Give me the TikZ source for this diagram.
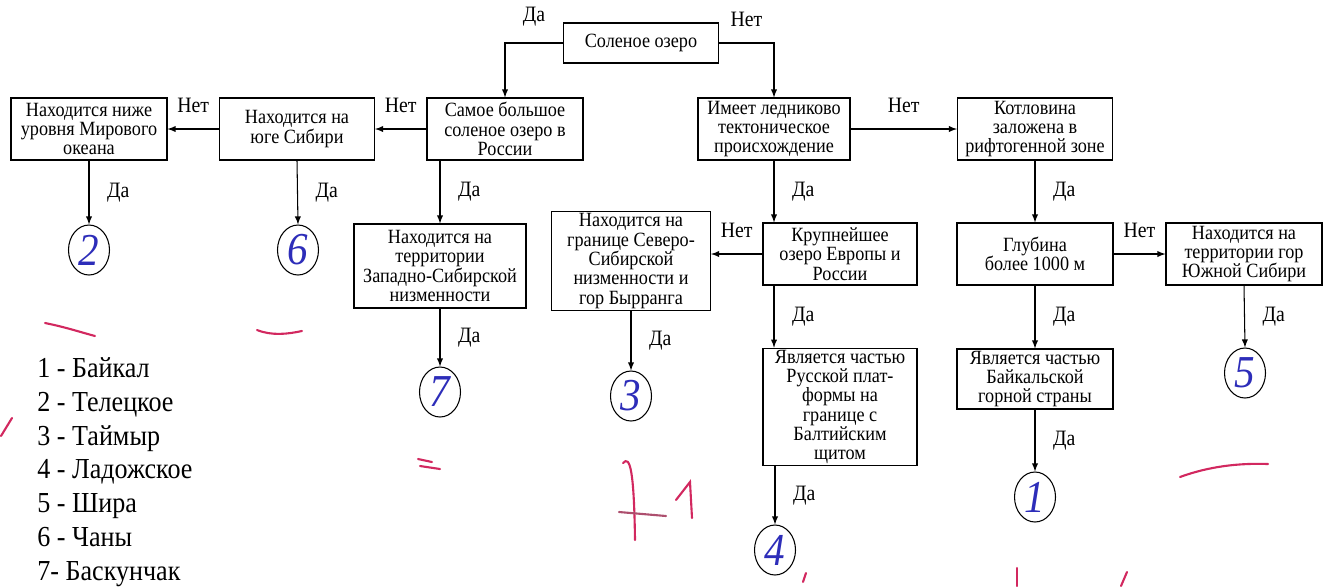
\documentclass[tikz,border=0pt]{standalone}
\usepackage{fontspec}
\setmainfont{Liberation Serif}[FakeStretch=0.9]
\usetikzlibrary{shapes.geometric}
\definecolor{pen}{RGB}{45,45,185}
\definecolor{redpen}{RGB}{210,40,95}
\tikzset{
  box/.style 2 args={draw, align=center, inner sep=1pt, line width=0.6pt,
    font=\fontsize{11.5}{11}\selectfont,
    minimum width=#1*0.02cm, minimum height=#2*0.02cm},
  lake/.style={draw, ellipse, inner sep=0pt, line width=0.6pt,
    minimum width=41*0.02cm, minimum height=50*0.02cm,
    text=pen, font=\fontsize{26}{26}\selectfont\itshape},
  yeslbl/.style={right=9pt, inner sep=1pt, font=\fontsize{12.5}{12}\selectfont},
  nolbl/.style={above=8pt, inner sep=1pt, font=\fontsize{12.5}{12}\selectfont},
  arr/.style={-latex, line width=0.6pt},
  ink/.style={draw=redpen, line width=1.2pt, line cap=round}
}
\begin{document}
\begin{tikzpicture}[x=0.02cm, y=-0.02cm]
	\useasboundingbox (0,0) rectangle (1331,586);

	%top of the tree
	\node[box={155}{40}] (salt) at (641,43) {Соленое озеро};
	\node[box={156}{62}] (big) at (505,129) {Самое большое\\соленое озеро в\\России};
	\node[box={152}{62}] (glac) at (774,129) {Имеет ледниково\\тектоническое\\происхождение};
	\node[box={155}{62}] (south) at (297,129) {Находится на\\юге Сибири};
	\node[box={156}{62}] (below) at (89,129) {Находится ниже\\уровня Мирового\\океана};
	\node[box={155}{62}] (rift) at (1035,129) {Котловина\\заложена в\\рифтогенной зоне};

	%second row
	\node[box={172}{84}] (wsib) at (440,266) {Находится на\\территории\\Западно-Сибирской\\низменности};
	\node[box={159}{98}] (taim) at (631,261) {Находится на\\границе Северо-\\Сибирской\\низменности и\\гор Бырранга};
	\node[box={154}{62}] (large) at (840,254) {Крупнейшее\\озеро Европы и\\России};
	\node[box={156}{62}] (deep) at (1035,254) {Глубина\\более 1000 м};
	\node[box={156}{62}] (shira) at (1244,254) {Находится на\\территории гор\\Южной Сибири};

	%third row
	\node[box={154}{117}] (lad) at (840,407) {Является частью\\Русской плат-\\формы на\\границе с\\Балтийским\\щитом};
	\node[box={156}{60}] (baik) at (1035,379) {Является частью\\Байкальской\\горной страны};

	%answers, numbers written by hand
	\node[lake] (c2) at (89,250) {2};
	\node[lake] (c6) at (298,250) {6};
	\node[lake] (c7) at (440,392) {7};
	\node[lake] (c3) at (631,396) {3};
	\node[lake] (c5) at (1245,373) {5};
	\node[lake] (c1) at (1035,497) {1};
	\node[lake] (c4) at (775,550) {4};

	\draw[arr] (salt.west) -| node[nolbl, pos=0.25] (a1) {Да} (big.north);
	\draw[arr] (salt.east) -| node[nolbl, pos=0.25] (a2) {Нет} (glac.north);
	\draw[arr] (big.west) -- node[nolbl] (a3) {Нет} (south.east);
	\draw[arr] (south.west) -- node[nolbl] (a4) {Нет} (below.east);
	\draw[arr] (glac.east) -- node[nolbl] (a5) {Нет} (rift.west);
	\draw[arr] (below.south) -- node[yeslbl] (a6) {Да} (c2.north);
	\draw[arr] (south.south) -- node[yeslbl] (a7) {Да} (c6.north);
	\draw[arr] (big.south -| wsib.north) -- node[yeslbl] (a8) {Да} (wsib.north);
	\draw[arr] (wsib.south) -- node[yeslbl] (a9) {Да} (c7.north);
	\draw[arr] (glac.south) -- node[yeslbl] (a10) {Да} (glac.south |- large.north);
	\draw[arr] (large.west) -- node[nolbl] (a11) {Нет} (large.west -| taim.east);
	\draw[arr] (taim.south) -- node[yeslbl] (a12) {Да} (c3.north);
	\draw[arr] (large.south -| glac.south) -- node[yeslbl] (a13) {Да} (lad.north -| glac.south);
	\draw[arr] (lad.south -| c4.north) -- node[yeslbl] (a14) {Да} (c4.north);
	\draw[arr] (rift.south) -- node[yeslbl] (a15) {Да} (deep.north);
	\draw[arr] (deep.east) -- node[nolbl] (a16) {Нет} (shira.west);
	\draw[arr] (deep.south) -- node[yeslbl] (a17) {Да} (baik.north);
	\draw[arr] (baik.south) -- node[yeslbl] (a18) {Да} (c1.north);
	\draw[arr] (shira.south) -- node[yeslbl] (a19) {Да} (c5.north);

	%list of the lakes
	\node[anchor=north west, inner sep=0pt, align=left, font=\fontsize{16.5}{19.3}\selectfont] (key) at (37,357)
		{1 - Байкал\\2 - Телецкое\\3 - Таймыр\\4 - Ладожское\\5 - Шира\\6 - Чаны\\7- Баскунчак};

	%red pen marks
	\draw[ink] (45,323) .. controls (65,327) and (80,332) .. (95,336);
	\draw[ink] (257,330) .. controls (272,336) and (288,334) .. (302,331);
	\draw[ink] (1,436) -- (12,418);
	\draw[ink] (418,459) -- (432,462);
	\draw[ink] (420,466) -- (440,469);
	\draw[ink] (623,463) .. controls (630,455) and (634,470) .. (635,540);
	\draw[ink, draw=redpen!55!gray] (619,512) -- (666,516);
	\draw[ink] (676,500) -- (690,482) -- (692,518);
	\draw[ink] (806,573) -- (803,582);
	\draw[ink] (1180,477) .. controls (1210,466) and (1240,463) .. (1268,464);
	\draw[ink] (1017,568) -- (1017,586);
	\draw[ink] (1127,572) -- (1121,586);

\end{tikzpicture}
\end{document}
